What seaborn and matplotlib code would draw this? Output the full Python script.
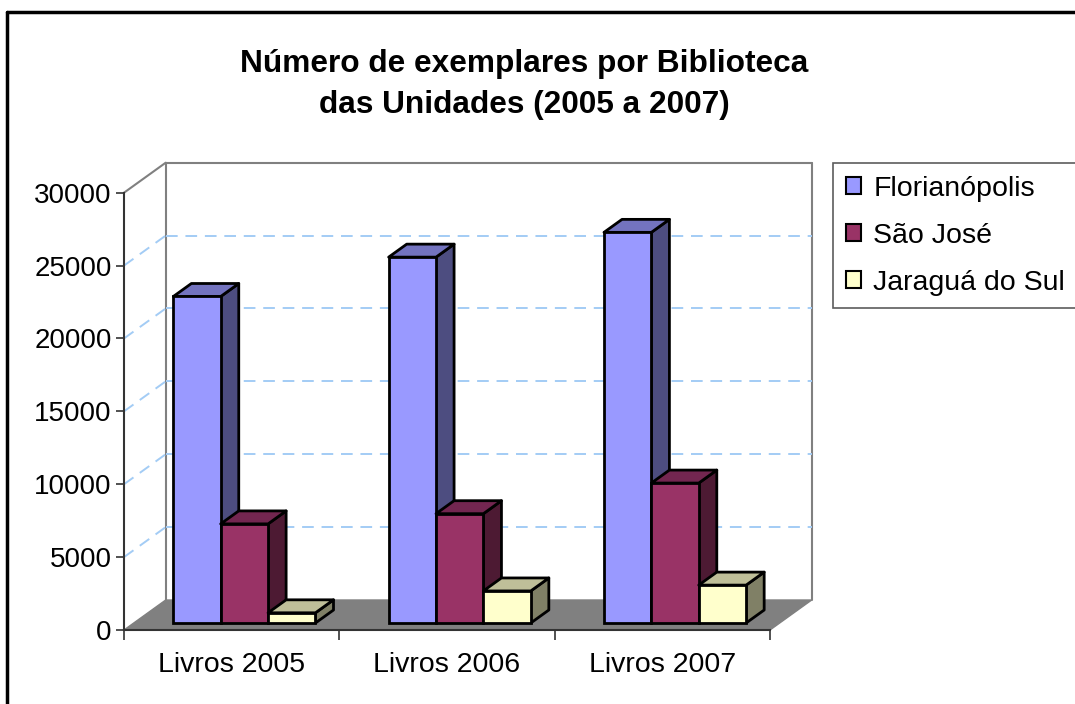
import numpy as np
import pandas as pd
import matplotlib
matplotlib.use("Agg")
import matplotlib.pyplot as plt
import matplotlib.transforms as mtransforms
from matplotlib.colors import to_hex
from matplotlib.patches import Polygon, Rectangle
from matplotlib.lines import Line2D
import seaborn as sns

# data
categorias = ["Livros 2005", "Livros 2006", "Livros 2007"]
bibliotecas = ["Florianópolis", "São José", "Jaraguá do Sul"]
florianopolis = [22400, 25100, 26800]
sao_jose = [6800, 7500, 9600]
jaragua = [700, 2200, 2600]

frente = ["#9999ff", "#993366", "#ffffcc"]
topo = ["#7373bf", "#732650", "#bfbf99"]
lado = ["#4d4d80", "#4d1a33", "#808066"]

df = pd.DataFrame({
    "categoria": categorias * 3,
    "biblioteca": [b for b in bibliotecas for _ in categorias],
    "exemplares": florianopolis + sao_jose + jaragua,
})

sns.set_theme(style="white")
plt.rcParams["font.family"] = ["Liberation Sans", "DejaVu Sans"]
plt.rcParams["text.color"] = "black"
plt.rcParams["xtick.color"] = "black"
plt.rcParams["ytick.color"] = "black"

W, H = 1075, 704
fig = plt.figure(figsize=(W / 100, H / 100), dpi=100)
# front plane of the 3d box, in pixels
ax = fig.add_axes([124 / W, 74 / H, 646 / W, 437.3 / H])
ax.set_facecolor("none")

sns.barplot(data=df, x="categoria", y="exemplares", hue="biblioteca",
            palette=frente, width=0.66, gap=0, edgecolor="black",
            linewidth=2, ax=ax, legend=False, saturation=1)
bars = sorted([p for p in ax.patches if isinstance(p, Rectangle)],
              key=lambda p: p.get_x())

ax.set_xlim(-0.5, 2.5)
ax.set_ylim(0, 30000)

D = np.array([41.7, 30.0])   # depth vector of the box (pixels)
d0, db = 0.233, 0.433       # bar front depth and bar depth
extra_x = 3.0               # small sideways nudge of the bars (pixels)
ident = mtransforms.IdentityTransform()


def px(x, v, d, dx=0.0):
    return ax.transData.transform((x, v)) + d * D + np.array([dx, 0.0])


def poly(pts, **kw):
    p = Polygon(pts, closed=True, transform=ident, clip_on=False, **kw)
    ax.add_patch(p)
    return p


def line(p1, p2, **kw):
    ln = Line2D([p1[0], p2[0]], [p1[1], p2[1]], transform=ident,
                clip_on=False, **kw)
    ax.add_line(ln)


# walls
wall = "#808080"
line(px(-0.5, 30000, 0), px(-0.5, 30000, 1), color=wall, lw=1.5, zorder=1)
line(px(-0.5, 0, 1), px(-0.5, 30000, 1), color=wall, lw=1.5, zorder=1)
line(px(-0.5, 30000, 1), px(2.5, 30000, 1), color=wall, lw=1.5, zorder=1)
line(px(2.5, 0, 1), px(2.5, 30000, 1), color=wall, lw=1.5, zorder=1)

grid = "#A3CCF5"
for v in range(5000, 30000, 5000):
    line(px(-0.5, v, 0), px(-0.5, v, 1), color=grid, lw=1.4, ls=(0, (6, 4)), zorder=1)
    line(px(-0.5, v, 1), px(2.5, v, 1), color=grid, lw=1.4, ls=(0, (6, 4)), zorder=1)

# floor
poly([px(-0.5, 0, 0), px(2.5, 0, 0), px(2.5, 0, 1), px(-0.5, 0, 1)],
     facecolor="#808080", edgecolor="#808080", lw=1, zorder=1.5)

# 3d faces of the bars
shift = mtransforms.ScaledTranslation((d0 * D[0] + extra_x) / 100, d0 * D[1] / 100,
                                      fig.dpi_scale_trans)
for i, bar in enumerate(bars):
    if bar.get_height() <= 0:
        continue
    cor = to_hex(bar.get_facecolor())
    k = frente.index(cor) if cor in frente else 0
    x0, w, h = bar.get_x(), bar.get_width(), bar.get_height()
    x1 = x0 + w
    z = 3 + i * 0.01
    e = extra_x
    poly([px(x1, 0, d0, e), px(x1, h, d0, e), px(x1, h, d0 + db, e), px(x1, 0, d0 + db, e)],
         facecolor=lado[k], edgecolor="black", lw=2, joinstyle="round", zorder=z)
    poly([px(x0, h, d0, e), px(x1, h, d0, e), px(x1, h, d0 + db, e), px(x0, h, d0 + db, e)],
         facecolor=topo[k], edgecolor="black", lw=2, joinstyle="round", zorder=z)
    bar.set_transform(ax.transData + shift)
    bar.set_clip_on(False)
    bar.set_zorder(z + 0.005)

# axes, ticks
for s in ["top", "right"]:
    ax.spines[s].set_visible(False)
for s in ["left", "bottom"]:
    ax.spines[s].set_color("#333333")
    ax.spines[s].set_linewidth(1.5)
    ax.spines[s].set_zorder(2)

ax.set_yticks(range(0, 30001, 5000))
ax.tick_params(axis="y", labelsize=20, length=6, width=1.2, color="#333333",
               pad=3, left=True)
ax.set_xticks([0, 1, 2])
ax.set_xticklabels(categorias)
ax.set_xticks([-0.5, 0.5, 1.5, 2.5], minor=True)
ax.tick_params(axis="x", which="major", labelsize=20.5, length=0, pad=16)
ax.tick_params(axis="x", which="minor", length=7, width=1.2, color="#333333",
               bottom=True)
ax.set_xlabel("")
ax.set_ylabel("")

# legend
handles = [Rectangle((0, 0), 1, 1, facecolor=c, edgecolor="black", lw=1.5)
           for c in frente]
leg = fig.legend(handles, bibliotecas, loc="upper left",
                 bbox_to_anchor=(833 / W, 1 - 162.7 / H),
                 frameon=True, fancybox=False, edgecolor="#333333",
                 fontsize=20.5, handlelength=0.52, handleheight=0.52,
                 handletextpad=0.45, labelspacing=0.74, borderpad=0.45,
                 borderaxespad=0)
leg.get_frame().set_linewidth(1.2)

# title
fig.text(524 / W, 1 - 84.5 / H,
         "Número de exemplares por Biblioteca\ndas Unidades (2005 a 2007)",
         ha="center", va="center", fontsize=22.8, fontweight="bold",
         linespacing=1.45)

# chart border
fig.add_artist(Line2D([7 / W, 7 / W], [0, 1 - 12 / H], color="black", lw=2.5,
                      transform=fig.transFigure))
fig.add_artist(Line2D([7 / W, 1], [1 - 12 / H, 1 - 12 / H], color="black",
                      lw=2.5, transform=fig.transFigure))

fig.savefig("out.png", dpi=100, facecolor="white")
